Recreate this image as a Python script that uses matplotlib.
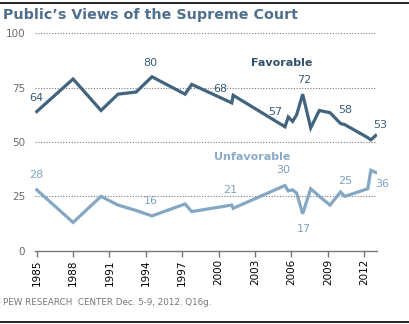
import matplotlib
matplotlib.use("Agg")
import matplotlib.pyplot as plt
from matplotlib.lines import Line2D

OUT_PATH = "out.png"

# survey dates (decimal years) and percentages
fav_years = [1985.0, 1988.0, 1990.3, 1991.7, 1993.2, 1994.5, 1997.23, 1997.78,
             2001.08, 2001.2, 2005.47, 2005.74, 2006.1, 2006.43, 2006.93,
             2007.59, 2008.3, 2009.18, 2010.05, 2010.4, 2012.3, 2012.55, 2012.95]
fav_vals = [64, 79, 64.5, 72, 73, 80, 72, 76.5,
            68, 71.5, 57, 61.5, 59.5, 62.5, 72,
            56.5, 64.5, 63.5, 58.5, 58, 52, 51, 53]

unfav_years = [1985.0, 1988.0, 1990.3, 1991.7, 1993.2, 1994.5, 1997.23, 1997.78,
               2001.08, 2001.2, 2005.47, 2005.74, 2006.1, 2006.43, 2006.93,
               2007.59, 2008.3, 2009.18, 2010.05, 2010.4, 2012.3, 2012.55, 2012.95]
unfav_vals = [28, 13, 25, 21, 18.5, 16, 21.5, 18,
              21, 19.5, 30, 27.5, 28, 26.5, 17,
              28.5, 25, 21, 27, 25, 28.5, 37, 36]

# which points get a value label, with offsets in points
fav_labels = [(1985.0, 0, 10), (1994.5, -1, 10), (2001.08, -8, 10), (2005.47, -7, 11),
              (2006.93, 1, 10), (2010.4, 0, 10.5), (2012.95, 3, 7.5)]
unfav_labels = [(1985.0, 0, 11), (1994.5, -1, 11), (2001.08, -1, 11), (2005.47, -1, 11),
                (2006.93, 1, -11), (2010.4, 0, 11), (2012.95, 4.5, -8.5)]

year_ticks = [1985, 1988, 1991, 1994, 1997, 2000, 2003, 2006, 2009, 2012]
value_ticks = [0, 25, 50, 75, 100]

FAV_COLOR = "#42647e"
UNFAV_COLOR = "#84a7c3"

fig = plt.figure(figsize=(4.09, 3.24), dpi=100)
ax = fig.add_axes([0.0856, 0.2262, 0.8354, 0.671])

ax.plot(fav_years, fav_vals, color=FAV_COLOR, linewidth=2.3, solid_joinstyle="miter")
ax.plot(unfav_years, unfav_vals, color=UNFAV_COLOR, linewidth=2.3, solid_joinstyle="miter")

for yr, dx, dy in fav_labels:
    v = fav_vals[fav_years.index(yr)]
    ax.annotate(f"{v:g}", (yr, v), xytext=(dx, dy), textcoords="offset points",
                ha="center", va="center", fontsize=8, color="#3e5d77")
for yr, dx, dy in unfav_labels:
    v = unfav_vals[unfav_years.index(yr)]
    ax.annotate(f"{v:g}", (yr, v), xytext=(dx, dy), textcoords="offset points",
                ha="center", va="center", fontsize=8, color="#7ea2c2")

ax.text(2005.2, 86.5, "Favorable", fontsize=8, fontweight="bold", color="#34516b",
        ha="center", va="center")
ax.text(2002.8, 43, "Unfavorable", fontsize=8, fontweight="bold", color="#8aabc8",
        ha="center", va="center")

ax.set_xlim(1984.86, 2013.03)
ax.set_ylim(0, 100)
ax.set_xticks(year_ticks)
ax.set_xticklabels([str(y) for y in year_ticks], rotation=90, fontsize=7.5)
ax.set_yticks(value_ticks)
ax.set_yticklabels([str(v) for v in value_ticks], fontsize=7.5, color="#6b6b6b")
ax.tick_params(axis="x", length=4, width=1, color="#777777", pad=2)
ax.tick_params(axis="y", length=0, pad=7)

for v in value_ticks[1:]:
    ax.axhline(v, color="#777777", linewidth=0.8, linestyle=(0, (1, 1.5)), zorder=0)

for side in ["top", "right", "left"]:
    ax.spines[side].set_visible(False)
ax.spines["bottom"].set_color("#777777")
ax.spines["bottom"].set_linewidth(1)

fig.text(0.008, 0.955, "Public\u2019s Views of the Supreme Court", fontsize=10.3,
         fontweight="bold", color="#4f6f8c", ha="left", va="center")
fig.text(0.008, 0.065, "PEW RESEARCH  CENTER Dec. 5-9, 2012. Q16g.", fontsize=6.3,
         color="#777777", ha="left", va="center")

fig.add_artist(Line2D([0, 1], [0.991, 0.991], color="black", linewidth=1.2))
fig.add_artist(Line2D([0, 1], [0.007, 0.007], color="black", linewidth=1.2))

fig.savefig(OUT_PATH, dpi=100)
